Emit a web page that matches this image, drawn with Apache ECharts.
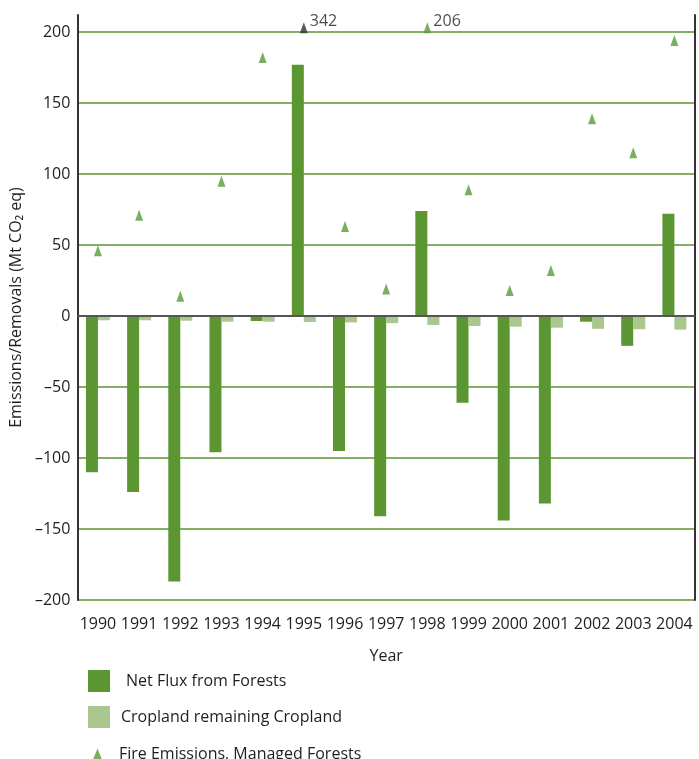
<!DOCTYPE html>
<html>
<head>
<meta charset="utf-8">
<script src="https://cdn.jsdelivr.net/npm/echarts@6/dist/echarts.min.js"></script>
<style>
  html, body { margin: 0; padding: 0; background: #fff; }
  #chart { width: 699px; height: 759px; }
</style>
</head>
<body>
<div id="chart"></div>
<script>
const years = ['1990', '1991', '1992', '1993', '1994', '1995', '1996', '1997', '1998', '1999', '2000', '2001', '2002', '2003', '2004'];
const netFlux = [-110, -124, -187, -96, -3.5, 177, -95, -141, 74, -61, -144, -132, -4, -21, 72];
const cropland = [-3, -3, -3.3, -4, -4, -4.2, -4.5, -5, -6.3, -7, -7.5, -8.2, -9, -9.3, -9.6];
const fireEmissions = [46, 71, 14, 95, 182, 342, 63, 19, 206, 89, 18, 32, 139, 115, 194];
const yTicks = [-200, -150, -100, -50, 0, 50, 100, 150, 200];

// off-scale values are pinned just above the 200 line and labelled
const fireCap = 203;
const green = '#5b9632';
const light = '#a9c78f';
const ink = '#1e1e1e';
const font = '"Open Sans", "Noto Sans", sans-serif';

const chart = echarts.init(document.getElementById('chart'));

chart.setOption({
  animation: false,
  textStyle: { fontFamily: font, color: ink },
  grid: { left: 71, right: 4, top: 15, bottom: 159 },
  legend: [
    {
      orient: 'vertical',
      left: 83,
      top: 665,
      itemWidth: 22,
      itemHeight: 22,
      itemGap: 14,
      icon: 'rect',
      itemStyle: { borderWidth: 0 },
      textStyle: { fontSize: 16, color: ink, fontFamily: font },
      data: [
        { name: 'Net Flux from Forests', textStyle: { fontSize: 16, color: ink, padding: [0, 0, 0, 11] } },
        { name: 'Cropland remaining Cropland', textStyle: { fontSize: 16, color: ink, padding: [0, 0, 0, 6] } }
      ]
    },
    {
      left: 88,
      top: 741,
      itemWidth: 9,
      itemHeight: 11,
      itemStyle: { borderWidth: 0 },
      textStyle: { fontSize: 16, color: ink, fontFamily: font, padding: [0, 0, 0, 12] },
      data: ['Fire Emissions, Managed Forests']
    }
  ],
  xAxis: {
    type: 'category',
    data: years,
    name: 'Year',
    nameLocation: 'middle',
    nameGap: 48,
    nameTextStyle: { fontSize: 16, color: ink },
    axisLine: { show: false },
    axisTick: { show: false },
    axisLabel: { fontSize: 16, color: ink, margin: 16, interval: 0 }
  },
  yAxis: [
    {
      type: 'value',
      min: yTicks[0],
      max: 212,
      interval: 50,
      name: 'Emissions/Removals (Mt CO₂ eq)',
      nameLocation: 'middle',
      nameGap: 52,
      nameTextStyle: { fontSize: 16, color: ink },
      axisLine: { show: true, lineStyle: { color: '#333', width: 2 } },
      axisTick: { show: false },
      axisLabel: {
        fontSize: 16,
        color: ink,
        margin: 7,
        formatter: v => (yTicks.includes(v) ? String(v).replace('-', '–') : '')
      },
      splitLine: {
        lineStyle: {
          width: 1.5,
          color: [green, green, green, green, green, green, green, green, green, 'transparent']
        }
      }
    },
    {
      type: 'value',
      min: yTicks[0],
      max: 212,
      interval: 50,
      position: 'right',
      axisLine: { show: true, lineStyle: { color: '#333', width: 2 } },
      axisTick: { show: false },
      axisLabel: { show: false },
      splitLine: { show: false }
    }
  ],
  series: [
    {
      name: 'Net Flux from Forests',
      type: 'bar',
      data: netFlux,
      barWidth: 12,
      barGap: '0%',
      itemStyle: { color: green },
      markLine: {
        silent: true,
        symbol: 'none',
        label: { show: false },
        lineStyle: { color: '#555', width: 2, type: 'solid' },
        data: [{ yAxis: 0 }]
      },
      z: 2
    },
    {
      name: 'Cropland remaining Cropland',
      type: 'bar',
      data: cropland,
      barWidth: 12,
      itemStyle: { color: light },
      z: 2
    },
    {
      name: 'Fire Emissions, Managed Forests',
      type: 'scatter',
      symbol: 'triangle',
      symbolSize: [8, 11],
      itemStyle: { color: '#5a9a3a' },
      data: fireEmissions.map(v => {
        if (v <= fireCap) return v;
        return {
          value: Math.min(v, fireCap),
          itemStyle: { color: v > 300 ? '#333' : '#5a9a3a' },
          label: {
            show: true,
            position: 'right',
            offset: [-3, -6],
            fontSize: 16,
            color: ink,
            formatter: String(v)
          }
        };
      }),
      z: 5
    }
  ]
});
</script>
</body>
</html>
